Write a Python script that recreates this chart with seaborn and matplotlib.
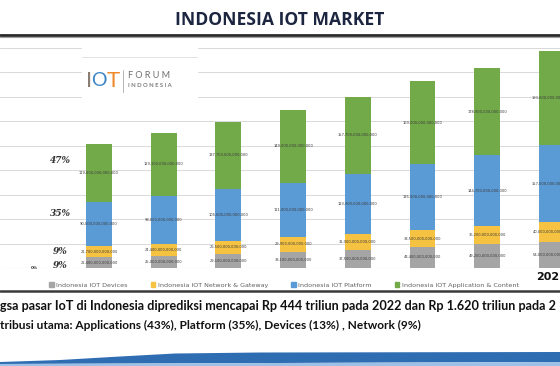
import matplotlib
matplotlib.use('Agg')
import matplotlib.pyplot as plt
import matplotlib.patches as mpatches
from matplotlib.lines import Line2D
import pandas as pd
import seaborn as sns

# values in trillion rupiah
years = ['2015', '2016', '2017', '2018', '2019', '2020', '2021', '2022']
devices = [22.4, 25.0, 29.1, 33.1, 37.5, 43.4, 49.2, 54.0]
network = [21.7, 24.4, 26.5, 29.9, 31.0, 33.5, 36.2, 40.0]
platform = [90.0, 98.0, 105.6, 111.0, 123.9, 135.9, 144.7, 157.0]
application = [119.0, 129.1, 137.7, 149.0, 157.7, 169.0, 178.9, 193.0]

series_names = ['Indonesia IOT Devices', 'Indonesia IOT Network & Gateway',
                'Indonesia IOT Platform', 'Indonesia IOT Application & Content']
share_labels = ['47%', '35%', '9%', '9%']
share_y = [219, 112, 33, 6]

title = 'INDONESIA IOT MARKET'
note_1 = 'gsa pasar IoT di Indonesia diprediksi mencapai Rp 444 triliun pada 2022 dan Rp 1.620 triliun pada 2'
note_2 = 'tribusi utama: Applications (43%), Platform (35%), Devices (13%) , Network (9%)'

colors = ['#A5A5A5', '#F5C242', '#5B9BD5', '#72AA4A']

W, H = 560, 366


def fx(px):
    return px / W


def fy(py):
    return 1 - py / H


df = pd.DataFrame({'year': years, 'dev': devices, 'net': network,
                   'plat': platform, 'app': application})
df['c1'] = df['dev']
df['c2'] = df['c1'] + df['net']
df['c3'] = df['c2'] + df['plat']
df['c4'] = df['c3'] + df['app']

sns.set_style('white')
fig = plt.figure(figsize=(5.6, 3.66), dpi=100)
ax = fig.add_axes([0, fy(268), 1, 225 / H])

# stacked bars: draw the tallest cumulative layer first
handles = {}
for col, name, color in [('c4', series_names[3], colors[3]), ('c3', series_names[2], colors[2]),
                         ('c2', series_names[1], colors[1]), ('c1', series_names[0], colors[0])]:
    sns.barplot(data=df, x='year', y=col, color=color, width=0.4, saturation=1,
                ax=ax, edgecolor='none', zorder=2)
    handles[name] = mpatches.Patch(color=color, label=name)

# data labels inside segments
for i in range(len(years)):
    bottom = 0
    for val in [devices[i], network[i], platform[i], application[i]]:
        ax.text(i, bottom + val / 2, f'{val * 1e12:,.0f}', ha='center', va='center',
                fontsize=2.6, color='#3a3a3a', zorder=3)
        bottom += val

ax.set_xlim(-1.53, -1.53 + W / 64.7)
ax.set_ylim(0, 460)
ax.set_yticks(range(50, 451, 50))
ax.set_yticklabels([])
ax.grid(axis='y', color='#d9d9d9', lw=0.7, zorder=0)
ax.axhline(0, color='#d0d0d0', lw=0.8, zorder=1)
ax.set_xlabel('')
ax.set_ylabel('')
ax.set_xticks(range(len(years)))
ax.set_xticklabels([''] * 7 + ['2022'], fontsize=8, fontweight='bold', color='#111111')
ax.tick_params(length=0, pad=3)
sns.despine(ax=ax, left=True, bottom=True)

# share labels on the left
for lab, yv in zip(share_labels, share_y):
    ax.text(-0.6, yv, lab, ha='center', va='center', fontsize=6.5, fontweight='bold',
            style='italic', family='DejaVu Serif', color='#333333')
ax.text(-1.0, 0, '0%', ha='center', va='center', fontsize=3, fontweight='bold', color='#333333')

# legend
fig.legend(handles=[handles[n] for n in series_names], loc='center',
           bbox_to_anchor=(fx(284), fy(285)), ncol=4, frameon=False, fontsize=4.6,
           handlelength=0.7, handleheight=0.7, handletextpad=0.4, columnspacing=3.6,
           labelcolor='#606060')

# logo box
fig.patches.append(mpatches.Rectangle((fx(82), fy(101)), fx(116), 55 / H, transform=fig.transFigure,
                                      facecolor='white', edgecolor='none', zorder=5))
fig.add_artist(Line2D([fx(82), fx(197)], [fy(57)] * 2, color='#e2e2e2', lw=0.7, zorder=6))
fig.text(fx(86), fy(81), 'I', fontsize=16, color='#8a7d74', va='center', ha='left', family='Lato', zorder=7)
fig.text(fx(91), fy(81), 'O', fontsize=14, color='#3f86c6', va='center', ha='left', family='Lato', zorder=7)
fig.text(fx(107), fy(81), 'T', fontsize=16, color='#ee8a2c', va='center', ha='left', family='Lato', zorder=7)
fig.add_artist(Line2D([fx(123)] * 2, [fy(70), fy(92)], color='#a8a8a8', lw=0.6, zorder=7))
fig.text(fx(128), fy(75.5), 'F O R U M', fontsize=6.5, color='#6e6e6e', va='center', ha='left',
         family='Lato', zorder=7)
fig.text(fx(128), fy(85.5), 'I N D O N E S I A', fontsize=4.2, color='#7a7a7a', va='center', ha='left',
         family='Lato', fontweight='bold', zorder=7)

# title and rules
fig.text(0.5, fy(20), title, ha='center', va='center', fontsize=12.6, fontweight='bold',
         color='#1c2640', family='Open Sans')
fig.add_artist(Line2D([0, 1], [fy(34.5)] * 2, color='#2a2a2a', lw=2.0))
fig.add_artist(Line2D([0, 1], [fy(37)] * 2, color='#a0a0a0', lw=0.8))
fig.add_artist(Line2D([0, 1], [fy(291)] * 2, color='#3a3a3a', lw=1.8))

# notes under the chart
fig.text(0, fy(306), note_1, ha='left', va='center', fontsize=9.1, fontweight='bold',
         color='#111111', family='Lato')
fig.text(0, fy(325), note_2, ha='left', va='center', fontsize=8.6, fontweight='bold',
         color='#111111', family='Lato')

# blue swoosh at the bottom
top_edge = [(0, 362), (60, 360), (120, 356.5), (175, 353.5), (260, 352.5), (560, 352)]
pts = [(fx(x), fy(y)) for x, y in top_edge] + [(fx(560), fy(362)), (fx(0), fy(364))]
fig.patches.append(mpatches.Polygon(pts, closed=True, transform=fig.transFigure,
                                    facecolor='#2f6db3', edgecolor='none'))
fig.patches.append(mpatches.Polygon([(fx(0), fy(364)), (fx(560), fy(362)), (fx(560), fy(366)), (fx(0), fy(366))],
                                    closed=True, transform=fig.transFigure,
                                    facecolor='#9cc0e6', edgecolor='none'))

fig.savefig('out.png', dpi=100)
